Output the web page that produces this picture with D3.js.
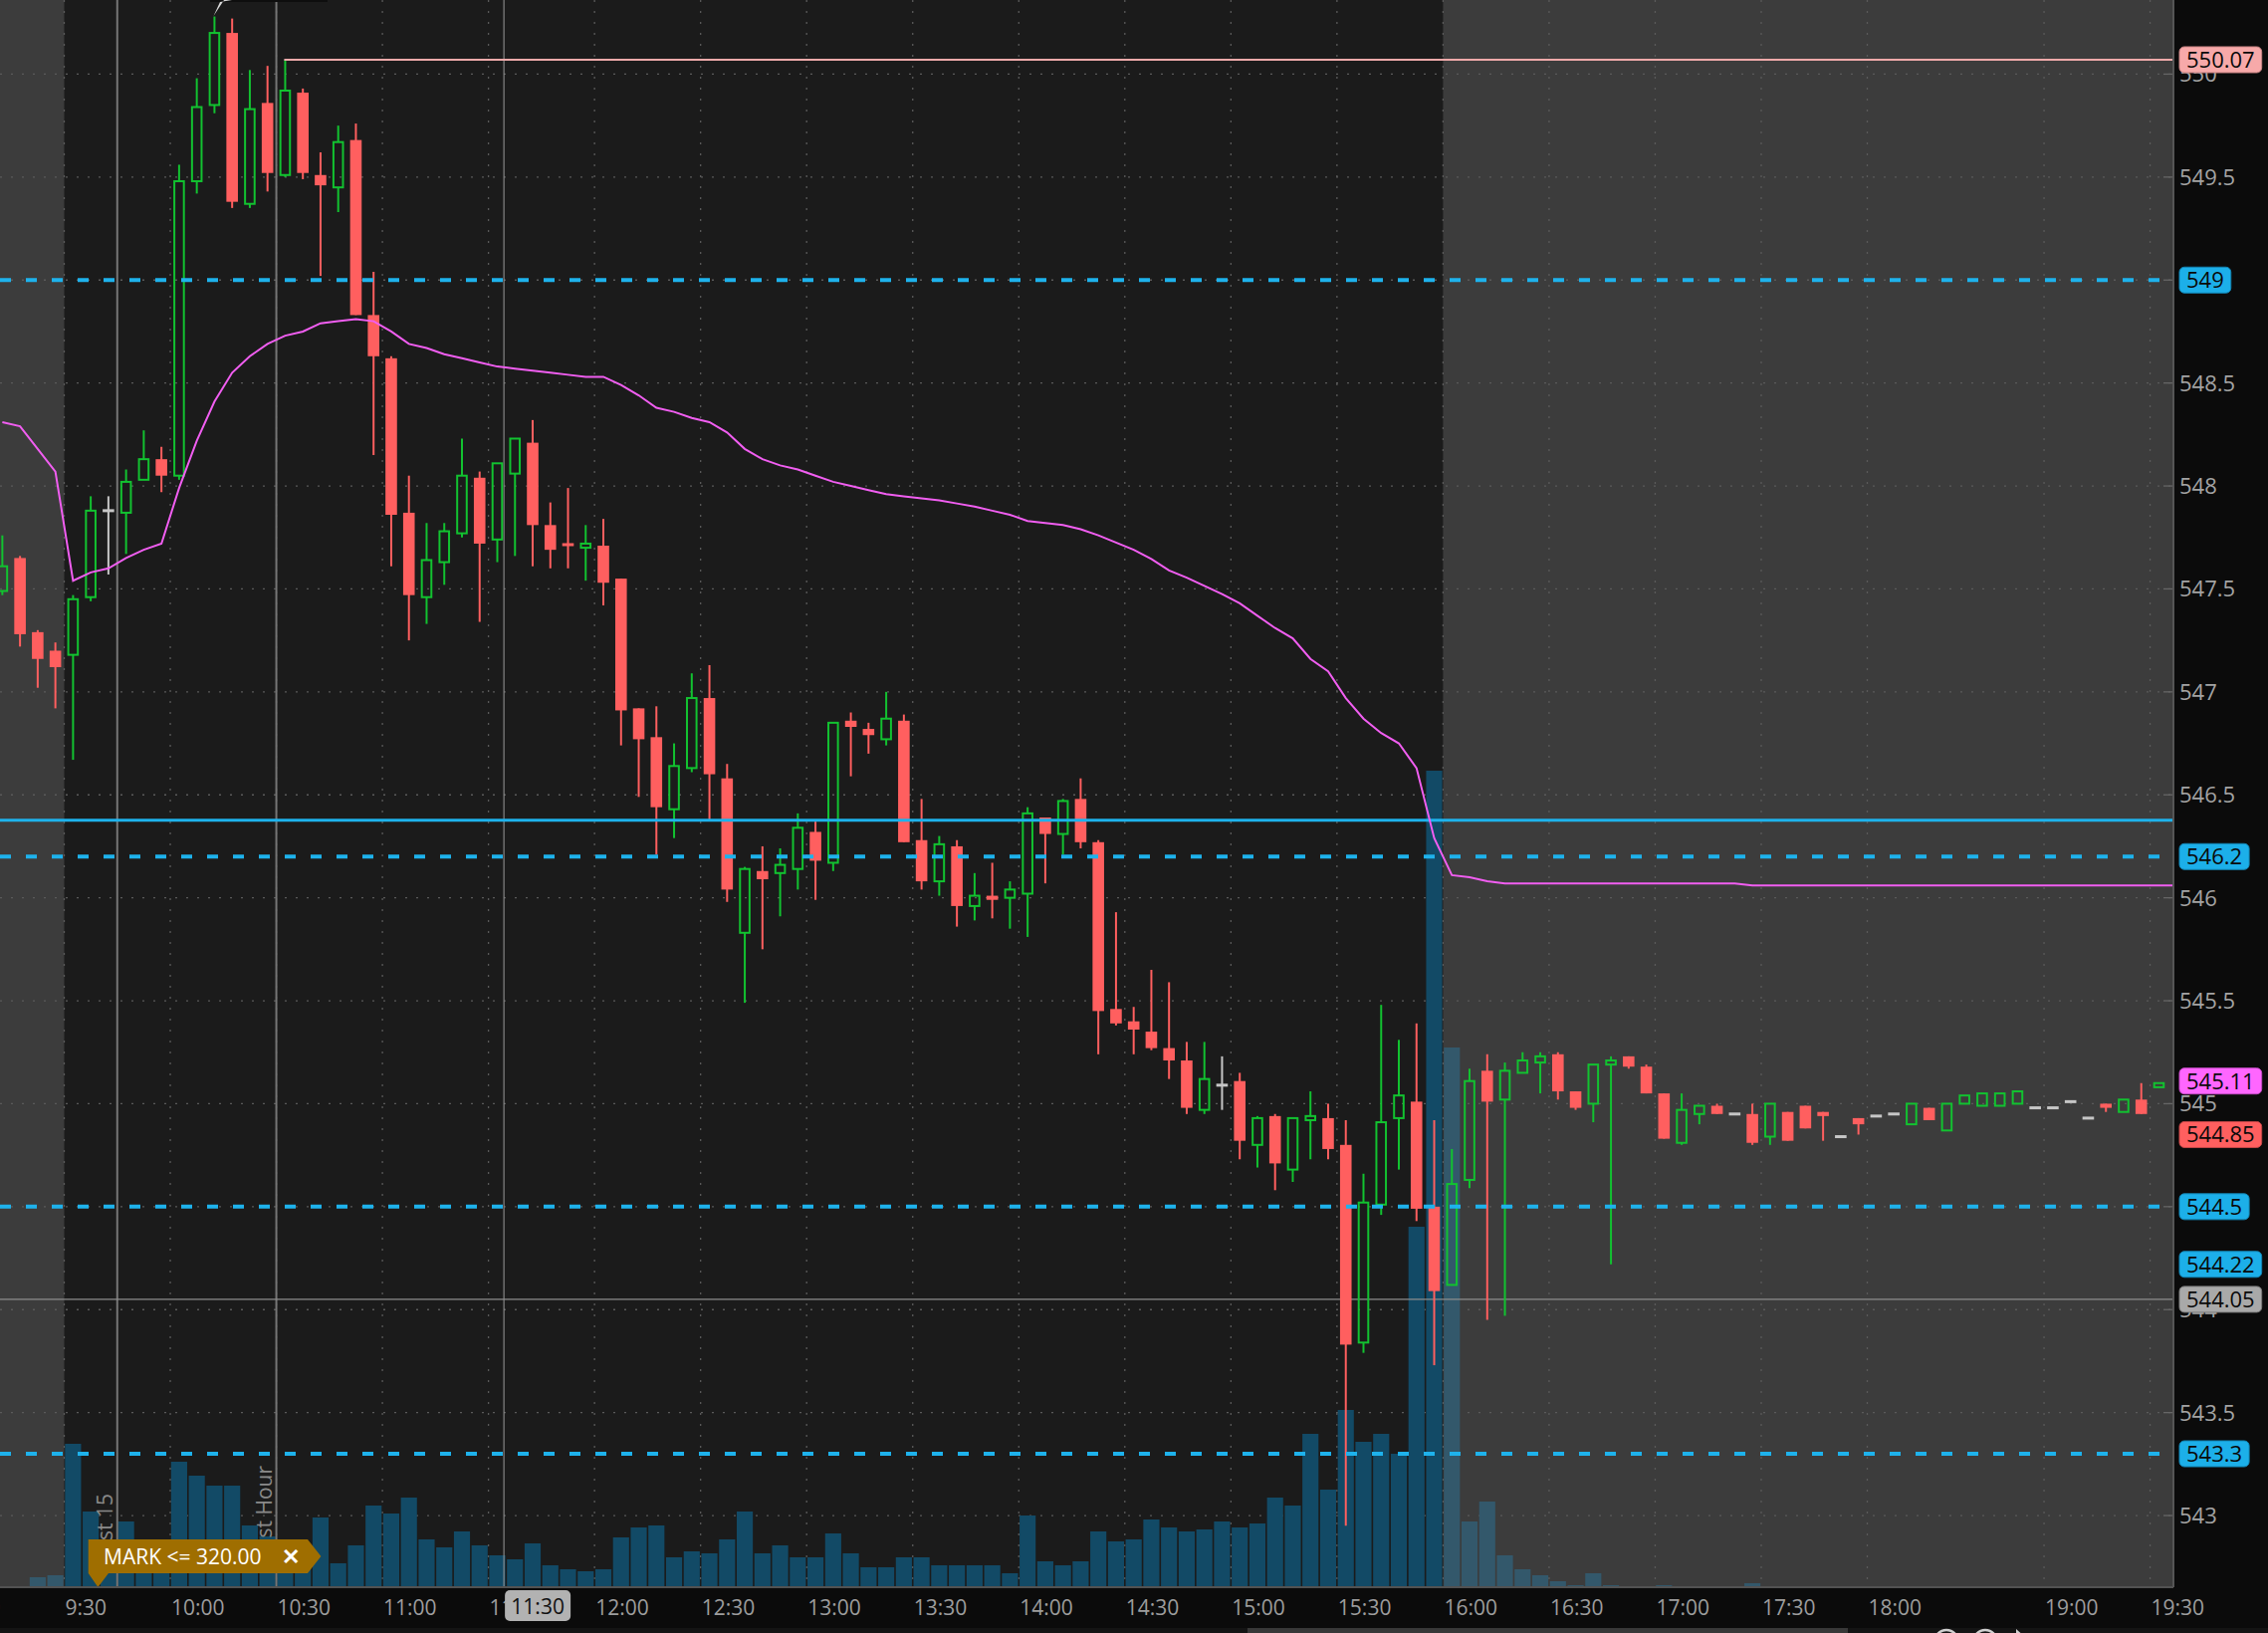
<!DOCTYPE html>
<html><head><meta charset="utf-8">
<script src="https://cdn.jsdelivr.net/npm/d3@7"></script>
<style>
html,body{margin:0;padding:0;background:#0b0b0b;overflow:hidden;}
svg{display:block;}
text{font-family:"Open Sans","Noto Sans",sans-serif;}
</style>
</head><body>
<svg id="chart" width="2278" height="1640"></svg>
<script>
// ---------------- DATA ----------------
const times = [
"9:00","9:05","9:10","9:15","9:20","9:25",
"9:30","9:35","9:40","9:45","9:50","9:55",
"10:00","10:05","10:10","10:15","10:20","10:25",
"10:30","10:35","10:40","10:45","10:50","10:55",
"11:00","11:05","11:10","11:15","11:20","11:25",
"11:30","11:35","11:40","11:45","11:50","11:55",
"12:00","12:05","12:10","12:15","12:20","12:25",
"12:30","12:35","12:40","12:45","12:50","12:55",
"13:00","13:05","13:10","13:15","13:20","13:25",
"13:30","13:35","13:40","13:45","13:50","13:55",
"14:00","14:05","14:10","14:15","14:20","14:25",
"14:30","14:35","14:40","14:45","14:50","14:55",
"15:00","15:05","15:10","15:15","15:20","15:25",
"15:30","15:35","15:40","15:45","15:50","15:55",
"16:00","16:05","16:10","16:15","16:20","16:25",
"16:30","16:35","16:40","16:45","16:50","16:55",
"17:00","17:05","17:10","17:15","17:20","17:25",
"17:30","17:35","17:40","17:45","17:50","17:55",
"18:00","18:05","18:10","18:15","18:20","18:35","18:40","18:45","18:50","18:55",
"19:00","19:05","19:10","19:15","19:20","19:25","19:30"];

const opens = [
null,null,547.49,547.65,547.29,547.20,
547.18,547.46,547.88,547.87,548.03,548.13,
548.05,549.48,549.85,550.20,549.37,549.86,
549.51,549.91,549.51,549.45,549.68,548.83,
548.62,547.87,547.46,547.63,547.77,548.04,
547.74,548.06,548.21,547.81,547.72,547.70,
547.71,547.55,546.92,546.78,546.43,546.63,
546.97,546.58,545.83,546.13,546.12,546.14,
546.32,546.17,546.86,546.82,546.77,546.86,
546.28,546.08,546.25,545.96,546.01,546.00,
546.02,546.39,546.31,546.48,546.27,545.46,
545.40,545.35,545.27,545.21,544.97,545.09,
545.11,544.80,544.94,544.68,544.92,544.93,
544.80,543.84,544.51,544.93,545.01,544.50,
544.12,544.63,545.16,545.02,545.15,545.20,
545.24,545.06,545.00,545.19,545.23,545.18,
545.05,544.81,544.95,544.99,544.95,544.95,
544.84,544.96,544.99,544.96,544.84,544.93,
544.94,544.95,544.90,544.98,544.87,545.00,544.99,544.99,545.00,544.98,
544.98,545.01,544.93,545.00,544.96,545.02,545.08];

const highs = [
null,null,547.76,547.66,547.30,547.24,
547.47,547.95,547.95,548.08,548.27,548.19,
549.56,549.98,550.28,550.27,550.02,550.04,
550.07,549.93,549.62,549.75,549.76,549.04,
548.63,548.05,547.82,547.82,548.23,548.07,
548.11,548.23,548.32,547.92,547.99,547.81,
547.84,547.55,546.92,546.93,546.75,547.09,
547.13,546.65,546.15,546.25,546.24,546.41,
546.37,546.85,546.90,546.85,547.00,546.89,
546.48,546.30,546.28,546.12,546.17,546.08,
546.44,546.39,546.48,546.58,546.28,545.93,
545.47,545.65,545.59,545.30,545.30,545.23,
545.15,544.94,544.95,544.93,545.06,545.00,
544.92,544.66,545.48,545.31,545.39,544.92,
544.78,545.17,545.24,545.20,545.25,545.25,
545.25,545.06,545.19,545.23,545.23,545.19,
545.05,545.05,544.99,545.00,544.95,545.00,
545.00,544.96,544.99,544.96,544.84,544.93,
544.94,544.95,545.00,544.98,545.00,545.04,545.05,545.05,545.06,544.98,
544.98,545.01,544.93,545.00,545.02,545.10,545.10];

const lows = [
null,null,547.47,547.22,547.02,546.92,
546.67,547.44,547.57,547.67,548.03,547.97,
548.03,549.42,549.81,549.35,549.35,549.43,
549.50,549.49,549.02,549.33,548.83,548.15,
547.61,547.25,547.33,547.52,547.75,547.34,
547.63,547.66,547.61,547.60,547.60,547.54,
547.42,546.74,546.49,546.21,546.29,546.61,
546.38,545.98,545.49,545.75,545.91,546.04,
545.99,546.13,546.59,546.70,546.74,546.27,
546.04,546.01,545.86,545.89,545.90,545.85,
545.81,546.07,546.21,546.24,545.24,545.38,
545.24,545.26,545.12,544.95,544.95,544.97,
544.73,544.69,544.58,544.62,544.73,544.73,
542.95,543.79,544.46,544.68,544.43,543.73,
544.12,544.59,543.95,543.97,545.15,545.05,
545.02,544.97,544.91,544.22,545.17,545.05,
544.83,544.80,544.90,544.95,544.95,544.80,
544.80,544.82,544.88,544.82,544.84,544.85,
544.94,544.95,544.90,544.92,544.87,545.00,544.99,544.99,545.00,544.98,
544.98,545.01,544.93,544.96,544.96,544.95,545.08];

const closes = [
null,null,547.61,547.28,547.16,547.12,
547.45,547.88,547.88,548.02,548.13,548.05,
549.48,549.84,550.20,549.38,549.83,549.52,
549.92,549.52,549.46,549.67,548.83,548.63,
547.86,547.47,547.64,547.78,548.05,547.72,
548.11,548.23,547.81,547.69,547.71,547.72,
547.53,546.91,546.77,546.44,546.64,546.97,
546.60,546.04,546.14,546.09,546.16,546.34,
546.18,546.85,546.83,546.79,546.87,546.27,
546.08,546.26,545.96,546.01,545.99,546.04,
546.41,546.31,546.47,546.27,545.45,545.39,
545.36,545.27,545.21,544.98,545.12,545.09,
544.82,544.93,544.71,544.93,544.94,544.78,
543.83,544.52,544.91,545.04,544.49,544.09,
544.61,545.11,545.01,545.16,545.21,545.23,
545.06,544.98,545.19,545.21,545.18,545.05,
544.83,544.97,544.99,544.95,544.95,544.81,
545.00,544.82,544.88,544.94,544.84,544.90,
544.94,544.95,545.00,544.92,545.00,545.04,545.05,545.05,545.06,544.98,
544.98,545.01,544.93,544.98,545.02,544.95,545.10];

// volume, thousands of shares
const volumes = [
null,null,0,0,100,120,
1440,760,340,660,380,420,
1260,1120,1020,1020,620,510,
340,380,700,240,420,820,
740,900,480,400,560,420,
320,280,440,220,180,160,
180,500,600,620,300,360,
340,480,760,340,420,300,
300,540,340,200,200,300,
300,220,220,220,220,140,
720,260,220,260,560,460,
480,680,600,560,580,660,
600,640,900,820,1540,980,
1780,1460,1540,1340,3620,8200,
5420,660,860,320,180,120,
60,20,140,20,0,0,
20,0,0,0,0,40,
0,0,0,0,0,0,
0,0,0,0,0,0,0,0,0,0,
0,0,0,0,0,0,0];

const vwap = [
null,null,548.31,548.29,548.18,548.07,
547.54,547.58,547.60,547.65,547.69,547.72,
547.99,548.22,548.41,548.55,548.63,548.69,
548.73,548.75,548.79,548.80,548.81,548.80,
548.75,548.69,548.67,548.64,548.62,548.60,
548.58,548.57,548.56,548.55,548.54,548.53,
548.53,548.49,548.44,548.38,548.36,548.33,
548.31,548.26,548.18,548.13,548.10,548.08,
548.05,548.02,548.00,547.98,547.96,547.95,
547.94,547.93,547.915,547.90,547.88,547.86,
547.83,547.82,547.81,547.79,547.76,547.725,
547.69,547.645,547.59,547.555,547.515,547.475,
547.43,547.37,547.31,547.26,547.16,547.10,
546.97,546.87,546.80,546.75,546.63,546.29,
546.11,546.10,546.08,546.07,546.07,546.07,
546.07,546.07,546.07,546.07,546.07,546.07,
546.07,546.07,546.07,546.07,546.07,546.06,
546.06,546.06,546.06,546.06,546.06,546.06,
546.06,546.06,546.06,546.06,546.06,546.06,546.06,546.06,546.06,546.06,
546.06,546.06,546.06,546.06,546.06,546.06,546.06];

const priceTicks = [543,543.5,544,544.5,545,545.5,546,546.5,547,547.5,548,548.5,549,549.5,550];
const timeTicks = ["9:00","9:30","10:00","10:30","11:00","11:30","12:00","12:30","13:00","13:30","14:00","14:30","15:00","15:30","16:00","16:30","17:00","17:30","18:00","19:00","19:30"];

const dashedLevels = [549, 546.2, 544.5, 543.3];
const solidLevel = 546.377;
const highLevel = 550.07;
const highLevelStart = "10:30";
const grayLevel = 544.05;
const bubbles = [
  {v:"550.07", fill:"#f7a9a9", stroke:"#c98585"},
  {v:"549",    fill:"#1cafe9", stroke:"#1386b5"},
  {v:"546.2",  fill:"#1cafe9", stroke:"#1386b5"},
  {v:"545.11", fill:"#ff66ff", stroke:"#c64ac6"},
  {v:"544.85", fill:"#ff5f5f", stroke:"#c44848"},
  {v:"544.5",  fill:"#1cafe9", stroke:"#1386b5"},
  {v:"544.22", fill:"#1cafe9", stroke:"#1386b5"},
  {v:"544.05", fill:"#a9a9a9", stroke:"#7c7c7c"},
  {v:"543.3",  fill:"#1cafe9", stroke:"#1386b5"}
];
const sessionStart = "9:30", sessionEnd = "16:00";
const markers = [{t:"9:45", label:"1st 15"}, {t:"10:30", label:"1st Hour"}];
const cursorTime = "11:30";
const markText = "MARK <= 320.00";

// ---------------- LAYOUT ----------------
const W = 2278, H = 1640, PR = 2183, PB = 1594;
const STEP = 17.755;
const svg = d3.select("#chart");
const x = d3.scaleBand().domain(times)
  .range([64.5 - 6*STEP, 64.5 - 6*STEP + times.length*STEP]).padding(0);
const y = d3.scaleLinear().domain([542.652, 550.36]).range([PB, 0]);
const yv = d3.scaleLinear().domain([0, 10000]).range([PB, PB - 1000]);
const bw = x.bandwidth();
const cx = t => x(t) + bw/2;

const GREEN = "#12c230", RED = "#ff5f5f", GRAY = "#c6c6c6", CYAN = "#1eb2ec";

svg.append("rect").attr("width", W).attr("height", H).attr("fill", "#0b0b0b");

const defs = svg.append("defs");
defs.append("clipPath").attr("id","plotclip").append("rect")
  .attr("x",0).attr("y",0).attr("width",PR).attr("height",PB);

const plot = svg.append("g").attr("clip-path","url(#plotclip)");
plot.append("rect").attr("width", PR).attr("height", PB).attr("fill", "#1b1b1b");
plot.append("rect").attr("x",0).attr("y",0).attr("width", x(sessionStart)).attr("height", PB).attr("fill", "#3c3c3c");
plot.append("rect").attr("x",x(sessionEnd)).attr("y",0).attr("width", PR - x(sessionEnd)).attr("height", PB).attr("fill", "#3c3c3c");

// grid
plot.selectAll(".hg").data(priceTicks).enter().append("line")
  .attr("x1",0).attr("x2",PR).attr("y1",d=>y(d)).attr("y2",d=>y(d))
  .attr("stroke","#5a5a5a").attr("stroke-width",1.3).attr("stroke-dasharray","2,9");
plot.selectAll(".vg").data(timeTicks).enter().append("line")
  .attr("x1",d=>x(d)).attr("x2",d=>x(d)).attr("y1",0).attr("y2",PB)
  .attr("stroke","#5a5a5a").attr("stroke-width",1.3).attr("stroke-dasharray","2,9");
plot.selectAll(".tk").data(priceTicks).enter().append("line")
  .attr("x1",PR-10).attr("x2",PR).attr("y1",d=>y(d)).attr("y2",d=>y(d))
  .attr("stroke","#666").attr("stroke-width",1.3);

// volume
const iStart = times.indexOf(sessionStart), iEnd = times.indexOf(sessionEnd);
const volData = times.map((t,i)=>({t, v:volumes[i], i})).filter(d=>d.v);
plot.selectAll(".vol").data(volData).enter().append("rect")
  .attr("x", d=>x(d.t)+0.8).attr("width", bw-1.6)
  .attr("y", d=>yv(d.v)).attr("height", d=>PB - yv(d.v))
  .attr("fill", d=> (d.i < iStart || d.i >= iEnd) ? "#33586b" : "#124a66");

// session marker lines
markers.forEach(m=>{
  plot.append("line").attr("x1",x(m.t)).attr("x2",x(m.t)).attr("y1",0).attr("y2",PB)
    .attr("stroke","#767676").attr("stroke-width",2);
  plot.append("text").attr("transform",`translate(${x(m.t)-5},${m.label==="1st 15"?1500:1472}) rotate(-90)`)
    .attr("text-anchor","end").attr("fill","#8a8a8a").attr("font-size",21).text(m.label);
});
// crosshair
const cursorX = x(cursorTime) + 15.5;
plot.append("line").attr("x1",cursorX).attr("x2",cursorX).attr("y1",0).attr("y2",PB)
  .attr("stroke","#9a9a9a").attr("stroke-width",1);

// gray level line
plot.append("line").attr("x1",0).attr("x2",PR).attr("y1",y(grayLevel)).attr("y2",y(grayLevel))
  .attr("stroke","#8d8d8d").attr("stroke-width",1.3);

// candles
const cData = times.map((t,i)=>({t, o:opens[i], h:highs[i], l:lows[i], c:closes[i]})).filter(d=>d.o!=null);
const cg = plot.append("g");
cData.forEach(d=>{
  const col = d.c > d.o ? GREEN : (d.c < d.o ? RED : GRAY);
  const X = cx(d.t);
  const top = Math.max(d.o,d.c), bot = Math.min(d.o,d.c);
  if (d.c > d.o) {
    if (d.h > top) cg.append("line").attr("x1",X).attr("x2",X).attr("y1",y(d.h)).attr("y2",y(top)).attr("stroke",col).attr("stroke-width",2);
    if (d.l < bot) cg.append("line").attr("x1",X).attr("x2",X).attr("y1",y(bot)).attr("y2",y(d.l)).attr("stroke",col).attr("stroke-width",2);
    cg.append("rect").attr("x",X-4.8).attr("width",9.6).attr("y",y(top)).attr("height",Math.max(y(bot)-y(top),2))
      .attr("fill","none").attr("stroke",col).attr("stroke-width",2);
  } else {
    cg.append("line").attr("x1",X).attr("x2",X).attr("y1",y(d.h)).attr("y2",y(d.l)).attr("stroke",col).attr("stroke-width",2);
    const hh = Math.max(y(bot)-y(top), 3);
    const yy = (y(bot)-y(top) < 3) ? (y(top)+y(bot))/2 - 1.5 : y(top);
    cg.append("rect").attr("x",X-5.8).attr("width",11.6).attr("y",yy).attr("height",hh).attr("fill",col);
  }
});

// level lines
dashedLevels.forEach(v=>{
  plot.append("line").attr("x1",0).attr("x2",PR).attr("y1",y(v)).attr("y2",y(v))
    .attr("stroke",CYAN).attr("stroke-width",4).attr("stroke-dasharray","11,15");
});
plot.append("line").attr("x1",0).attr("x2",PR).attr("y1",y(solidLevel)).attr("y2",y(solidLevel))
  .attr("stroke",CYAN).attr("stroke-width",3);
plot.append("line").attr("x1",cx(highLevelStart)-1).attr("x2",PR).attr("y1",y(highLevel)).attr("y2",y(highLevel))
  .attr("stroke","#eeaaaa").attr("stroke-width",2);

// VWAP (continues flat to the right edge of the plot)
const vw = times.map((t,i)=>({t, v:vwap[i]})).filter(d=>d.v!=null);
const vwPts = vw.map(d=>[cx(d.t), y(d.v)]);
vwPts.push([PR, y(vw[vw.length-1].v)]);
plot.append("path").datum(vwPts)
  .attr("d", d3.line())
  .attr("fill","none").attr("stroke","#f15ef1").attr("stroke-width",2);

// MARK label
const mk = svg.append("g");
mk.append("path").attr("d","M88.7,1546 L309,1546 L322.4,1563 L309,1580 L109,1580 L98.4,1594 L88.7,1580 Z")
  .attr("fill","#9f6e00");
mk.append("text").attr("x",104).attr("y",1571).attr("fill","#ffffff").attr("font-size",21).text(markText);
mk.append("text").attr("x",283).attr("y",1571).attr("fill","#ffffff").attr("font-size",22).attr("font-weight","bold").text("✕");

// tooltip sliver at top
svg.append("rect").attr("x",211).attr("y",0).attr("width",118).attr("height",2).attr("fill","#0e0e0e");
svg.append("path").attr("d","M214.5,16 L221,2 L233,0 L225,0 Z").attr("fill","#d9d9d9");

// borders
svg.append("line").attr("x1",PR).attr("x2",PR).attr("y1",0).attr("y2",PB).attr("stroke","#555").attr("stroke-width",2);
svg.append("line").attr("x1",0).attr("x2",PR).attr("y1",PB).attr("y2",PB).attr("stroke","#525252").attr("stroke-width",2);

// price axis labels (those fully hidden behind a same-value bubble are not drawn)
const bubbleVals = bubbles.map(b=>+b.v);
svg.selectAll(".pl").data(priceTicks.filter(d=>!bubbleVals.includes(d))).enter().append("text")
  .attr("x",2189).attr("y",d=>y(d)).attr("dy","0.36em")
  .attr("fill","#a3a3a3").attr("font-size",22).text(d=>d3.format("")(d));

// time axis labels
svg.selectAll(".tl").data(timeTicks).enter().append("text")
  .attr("x",d=>x(d)+1).attr("y",1622)
  .attr("fill","#9d9d9d").attr("font-size",21).text(d=>d);

// cursor time box
svg.append("rect").attr("x",cursorX+1).attr("y",1597).attr("width",66).attr("height",31).attr("rx",5)
  .attr("fill","#b2b2b2");
svg.append("text").attr("x",cursorX+34).attr("y",1621).attr("text-anchor","middle")
  .attr("fill","#111").attr("font-size",21).text(cursorTime);

// price bubbles
bubbles.forEach(b=>{
  const yy = y(+b.v);
  const g = svg.append("g");
  const r = g.append("rect").attr("x",2189).attr("y",yy-13).attr("height",26).attr("rx",5)
    .attr("fill",b.fill).attr("stroke",b.stroke).attr("stroke-width",1);
  const t = g.append("text").attr("x",2196).attr("y",yy).attr("dy","0.36em")
    .attr("fill","#0a0a0a").attr("font-size",22).text(b.v);
  r.attr("width", t.node().getComputedTextLength()+14);
});

// bottom strip / scrollbar
svg.append("rect").attr("x",0).attr("y",1635).attr("width",W).attr("height",5).attr("fill","#141414");
svg.append("rect").attr("x",1253).attr("y",1635).attr("width",603).attr("height",5).attr("fill","#383838");
[1955,1994].forEach(c=>svg.append("circle").attr("cx",c).attr("cy",1649).attr("r",12)
  .attr("fill","none").attr("stroke","#d0d0d0").attr("stroke-width",2.5));
svg.append("path").attr("d","M2025,1636 L2034,1644 L2025,1652 Z").attr("fill","#d0d0d0");
</script>
</body></html>
